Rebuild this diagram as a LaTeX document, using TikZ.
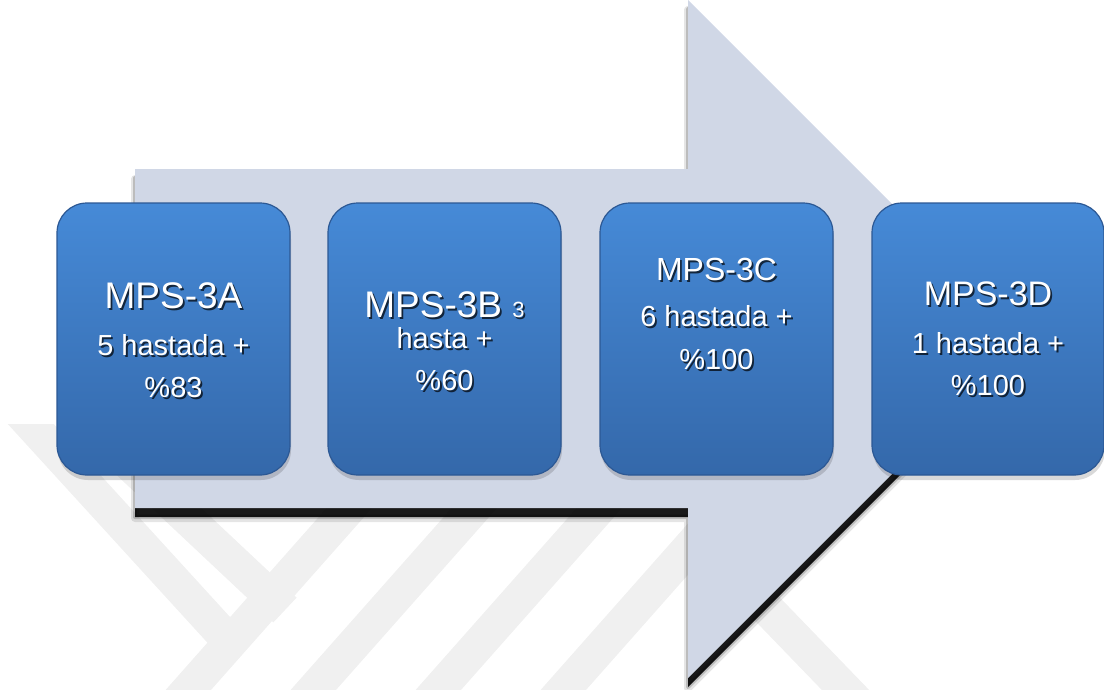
\documentclass[tikz,border=0pt]{standalone}
\usepackage{fontspec}
\setmainfont{Liberation Sans}
\definecolor{arrowfill}{RGB}{208,215,230}
\definecolor{boxtop}{RGB}{70,138,215}
\definecolor{boxbot}{RGB}{52,104,170}
\definecolor{boxedge}{RGB}{44,88,148}
\definecolor{wm}{RGB}{240,240,240}
\newcommand\stxt[4]{%
  \node[lbl, text=black, opacity=.7, xshift=1.8pt, yshift=-2pt] (#1s) at (#2) {\fontsize{#3}{#3}\selectfont #4};
  \node[lbl] (#1) at (#2) {\fontsize{#3}{#3}\selectfont #4};}
\begin{document}
\begin{tikzpicture}[x=1pt,y=-1pt,
  stagebox/.style={rounded corners=30pt, top color=boxtop, bottom color=boxbot,
    draw=boxedge, line width=1.2pt, minimum width=233pt, minimum height=272pt, inner sep=0pt},
  boxshadow/.style={rounded corners=30pt, fill=black, opacity=.15},
  lbl/.style={text=white, inner sep=0pt, anchor=base},
  wmband/.style={wm, line width=34pt}]
\useasboundingbox (0,0) rectangle (1104,689);
% watermark (faint)
\begin{scope}
  \clip (0,424) rectangle (1104,689);
  \draw[wmband] (18,410) -- (228,640);
  \draw[wmband] (120,455) -- (285,610);
  \foreach \x in {175,300,425,550} {\draw[wmband] (\x,705) -- ({\x+270},400);}
  \draw[wmband] (720,560) -- (860,705);
\end{scope}
% arrow shadow
\coordinate (ar1) at (135,169);
\draw[black, opacity=.10, line width=8pt, line join=round] (135,179) -- (688,179) -- (688,10) -- (1027,349) -- (688,688) -- (688,518) -- (135,518) -- cycle;
\draw[black, opacity=.18, line width=4pt, line join=round] (135,178) -- (688,178) -- (688,9) -- (1027,348) -- (688,687) -- (688,517) -- (135,517) -- cycle;
\fill[black, opacity=.9] (135,178) -- (688,178) -- (688,9) -- (1027,348) -- (688,687) -- (688,517) -- (135,517) -- cycle;
% arrow
\fill[arrowfill] (ar1) -- (688,169) -- (688,0) -- (1027,339) -- (688,678) -- (688,508) -- (135,508) -- cycle;
% boxes
\foreach \cx/\w in {173.5/233, 444.5/233, 716.5/233, 988/232} {
  \fill[boxshadow] ({\cx-\w/2+1},209) rectangle ({\cx+\w/2+1},480);
}
\node[stagebox] (A) at (173.5,339) {};
\node[stagebox] (B) at (444.5,339) {};
\node[stagebox] (C) at (716.5,339) {};
\node[stagebox, minimum width=232pt] (D) at (988,339) {};
% texts
\stxt{a1}{173.5,308}{37}{MPS-3A}
\stxt{a2}{173.5,355}{29}{5 hastada +}
\stxt{a3}{173.5,397}{29}{\%83}
\stxt{b1}{444.5,317}{37}{MPS-3B {\fontsize{22}{22}\selectfont 3}}
\stxt{b2}{444.5,348}{29}{hasta +}
\stxt{b3}{444.5,390}{29}{\%60}
\stxt{c1}{716.5,280}{32}{MPS-3C}
\stxt{c2}{716.5,326}{29}{6 hastada +}
\stxt{c3}{716.5,369}{29}{\%100}
\stxt{d1}{988,305}{34}{MPS-3D}
\stxt{d2}{988,353}{29}{1 hastada +}
\stxt{d3}{988,395}{29}{\%100}
\end{tikzpicture}
\end{document}
